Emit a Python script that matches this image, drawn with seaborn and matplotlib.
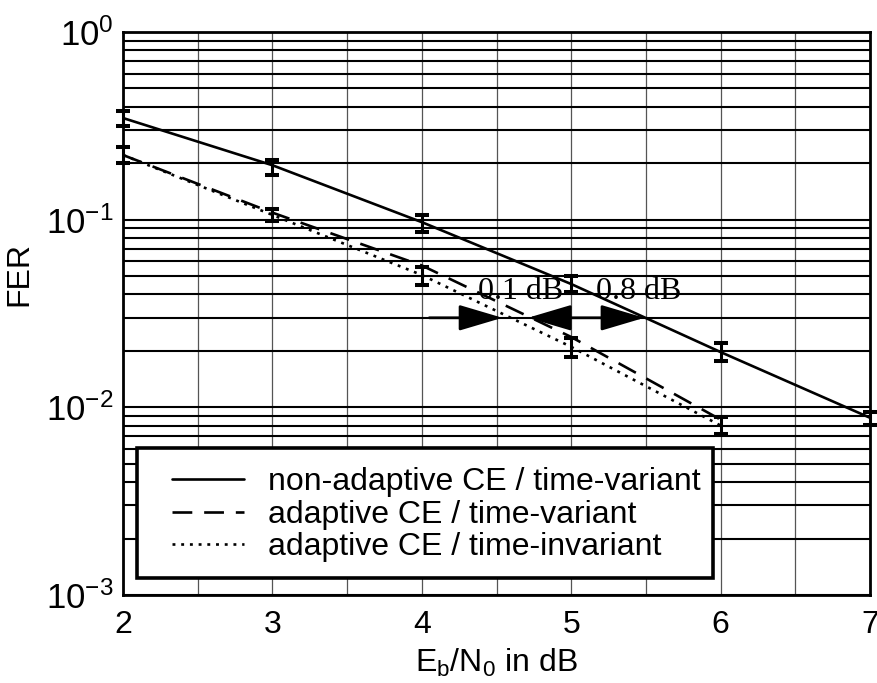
import numpy as np
import pandas as pd
import matplotlib
matplotlib.use("Agg")
import matplotlib.pyplot as plt
import seaborn as sns
from matplotlib.lines import Line2D
from matplotlib.patches import Rectangle, FancyArrowPatch, ArrowStyle
from matplotlib.ticker import FixedLocator, LogLocator, LogFormatterSciNotation, NullFormatter

# --- data -----------------------------------------------------------------
ebn0 = [2, 3, 4, 5, 6, 7]
fer_nonadaptive = [0.348, 0.195, 0.097, 0.0454, 0.0197, 0.0088]
nonadaptive_lo = [0.316, 0.173, 0.086, 0.0412, 0.0177, 0.0081]
nonadaptive_hi = [0.381, 0.208, 0.106, 0.0503, 0.0220, 0.0095]

ebn0_adaptive = [2, 3, 4, 5, 6]
fer_adaptive_tv = [0.221, 0.109, 0.057, 0.0237, 0.0086]
fer_adaptive_ti = [0.221, 0.106, 0.0507, 0.0210, 0.0080]
adaptive_center = [0.221, 0.106, 0.050, 0.0210, 0.0080]
adaptive_lo = [0.200, 0.098, 0.045, 0.0186, 0.0072]
adaptive_hi = [0.244, 0.114, 0.056, 0.0233, 0.0089]

curve_labels = ["non-adaptive CE / time-variant",
                "adaptive CE / time-variant",
                "adaptive CE / time-invariant"]

gap_labels = ["0.1 dB", "0.8 dB"]
arrow_fer = 0.03
arrow_x = [4.05, 4.54, 4.71, 4.97, 5.49]  # tail, tip | tip, shared tail, tip

# --- style ----------------------------------------------------------------
sns.set_style("white")
plt.rcParams["font.family"] = ["Liberation Sans", "DejaVu Sans"]
plt.rcParams["mathtext.fontset"] = "custom"
plt.rcParams["mathtext.rm"] = "Liberation Sans"
plt.rcParams["mathtext.it"] = "Liberation Sans:italic"
plt.rcParams["mathtext.bf"] = "Liberation Sans:bold"
for key in ("text.color", "axes.labelcolor", "xtick.color", "ytick.color"):
    plt.rcParams[key] = "black"

FS = 23
LW = 1.9
DASHED = (7.5, 4.5)
DOTTED = (1.1, 2.2)

fig = plt.figure(figsize=(8.78, 6.83), dpi=100)
ax = fig.add_axes([123 / 878, 1 - 595 / 683, 747 / 878, 563 / 683])

df = pd.concat([
    pd.DataFrame({"ebn0": ebn0, "fer": fer_nonadaptive, "curve": curve_labels[0]}),
    pd.DataFrame({"ebn0": ebn0_adaptive, "fer": fer_adaptive_tv, "curve": curve_labels[1]}),
    pd.DataFrame({"ebn0": ebn0_adaptive, "fer": fer_adaptive_ti, "curve": curve_labels[2]}),
], ignore_index=True)

dash_map = {curve_labels[0]: "", curve_labels[1]: DASHED, curve_labels[2]: DOTTED}
sns.lineplot(data=df, x="ebn0", y="fer", style="curve", dashes=dash_map,
             color="black", linewidth=LW, legend=False, ax=ax, zorder=4)

# error bars
err_kw = dict(fmt="none", ecolor="black", elinewidth=2.2, capsize=4.8,
              capthick=2.9, zorder=5, clip_on=False)
ax.errorbar(ebn0, fer_nonadaptive,
            yerr=[np.array(fer_nonadaptive) - np.array(nonadaptive_lo),
                  np.array(nonadaptive_hi) - np.array(fer_nonadaptive)], **err_kw)
ax.errorbar(ebn0_adaptive, adaptive_center,
            yerr=[np.array(adaptive_center) - np.array(adaptive_lo),
                  np.array(adaptive_hi) - np.array(adaptive_center)], **err_kw)

# axes, scales, grid
ax.set_yscale("log")
ax.set_xlim(2, 7)
ax.set_ylim(1e-3, 1)
ax.xaxis.set_major_locator(FixedLocator(ebn0))
ax.xaxis.set_minor_locator(FixedLocator(np.arange(2, 7.01, 0.5)))
ax.yaxis.set_major_locator(LogLocator(base=10, numticks=10))
ax.yaxis.set_major_formatter(LogFormatterSciNotation())
ax.yaxis.set_minor_locator(LogLocator(base=10, subs=np.arange(2, 10), numticks=20))
ax.yaxis.set_minor_formatter(NullFormatter())
ax.tick_params(axis="both", which="both", length=0)
ax.tick_params(axis="y", labelsize=25, pad=7)
ax.tick_params(axis="x", labelsize=FS, pad=11)

ax.grid(False)
ax.grid(axis="x", which="both", color="#555555", linewidth=0.9, zorder=1)
ax.grid(axis="y", which="both", color="black", linewidth=1.5, zorder=1)
ax.set_axisbelow(True)
for sp in ax.spines.values():
    sp.set_color("black")
    sp.set_linewidth(2.0)

ax.set_xlabel(r"E$_\mathregular{b}$/N$_\mathregular{0}$ in dB", fontsize=FS, labelpad=5)
ax.set_ylabel("FER", fontsize=FS)
ax.yaxis.set_label_coords(-0.118, 0.57)

# dB gap markers
astyle = ArrowStyle("-|>", head_length=27, head_width=8)
pairs = [(arrow_x[0], arrow_x[1]), (arrow_x[3], arrow_x[2]), (arrow_x[3], arrow_x[4])]
for a, b in pairs:
    ax.add_patch(FancyArrowPatch((a, arrow_fer), (b, arrow_fer), arrowstyle=astyle,
                                 mutation_scale=1, color="black", linewidth=2.0,
                                 shrinkA=0, shrinkB=0, zorder=6))
ax.text(4.66, 0.0412, gap_labels[0], fontsize=FS, family="Liberation Serif",
        ha="center", va="center", zorder=3)
ax.text(5.45, 0.0412, gap_labels[1], fontsize=FS, family="Liberation Serif",
        ha="center", va="center", zorder=3)

# legend with a heavy rectangular frame
ax.add_patch(Rectangle((0.019, 0.030), 0.771, 0.231, transform=ax.transAxes,
                       facecolor="white", edgecolor="black", linewidth=2.6, zorder=8))
handles = [Line2D([], [], color="black", linewidth=LW, linestyle="-"),
           Line2D([], [], color="black", linewidth=LW, dashes=DASHED),
           Line2D([], [], color="black", linewidth=LW, dashes=DOTTED)]
leg = ax.legend(handles, curve_labels, loc="upper left",
                bbox_to_anchor=(0.066, 0.227), frameon=False, fontsize=FS,
                handlelength=2.25, handletextpad=0.75, labelspacing=0.08,
                borderpad=0.0, borderaxespad=0.0)
leg.set_zorder(9)

fig.savefig("out.png", dpi=100)
